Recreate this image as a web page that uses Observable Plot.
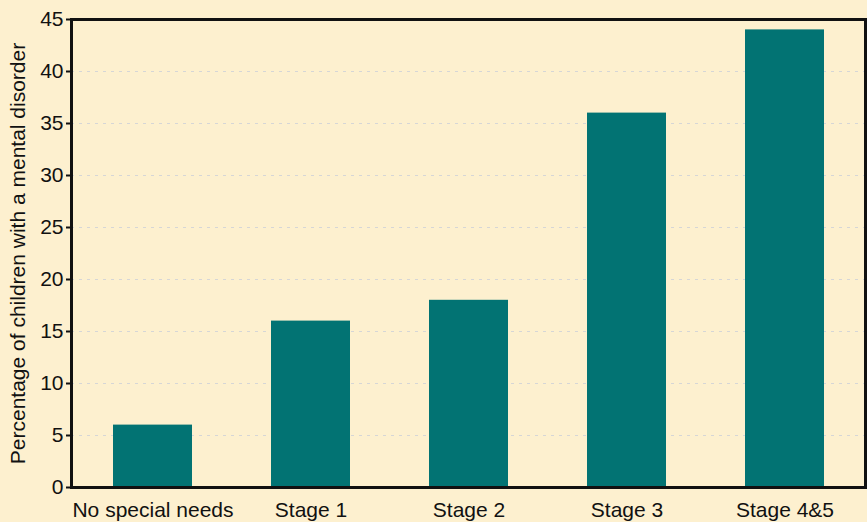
<!DOCTYPE html>
<html>
<head>
<meta charset="utf-8">
<script src="https://cdn.jsdelivr.net/npm/d3@7"></script>
<script src="https://cdn.jsdelivr.net/npm/@observablehq/plot@0.6"></script>
<style>
  html, body { margin: 0; padding: 0; background: #FDF0CF; }
  #chart svg { display: block; }
</style>
</head>
<body>
<div id="chart"></div>
<script>
const categories = ["No special needs", "Stage 1", "Stage 2", "Stage 3", "Stage 4&5"];
const values = [6, 16, 18, 36, 44];
const yTicks = [0, 5, 10, 15, 20, 25, 30, 35, 40, 45];
const yLabel = "Percentage of children with a mental disorder";

const data = categories.map((c, i) => ({category: c, value: values[i]}));

const chart = Plot.plot({
  width: 867,
  height: 522,
  marginLeft: 71,
  marginRight: 2,
  marginTop: 19,
  marginBottom: 35,
  style: {background: "#FDF0CF", fontFamily: "'Liberation Sans', Arial, sans-serif", fontSize: "20px", color: "#111"},
  x: {type: "band", domain: categories, paddingInner: 0.5, paddingOuter: 0.25, label: null},
  y: {domain: [0, 45], ticks: yTicks, label: null},
  marks: [
    Plot.gridY(yTicks.filter(t => t > 0 && t < 45), {stroke: "#d6d6d6", strokeOpacity: 1, strokeDasharray: "3,5", strokeWidth: 1.2}),
    Plot.barY(data, {x: "category", y: "value", fill: "#027373"}),
    Plot.axisY(yTicks, {tickSize: 5, tickPadding: 3, fontSize: 21, stroke: "#111", strokeWidth: 2, label: null}),
    Plot.axisX({tickSize: 0, tickPadding: 15, fontSize: 21, label: null}),
    Plot.frame({stroke: "#111", strokeWidth: 3}),
    Plot.text([yLabel], {frameAnchor: "left", dx: -53, rotate: -90, textAnchor: "middle", fontSize: 21, fill: "#111"})
  ]
});
document.getElementById("chart").appendChild(chart);
</script>
</body>
</html>
